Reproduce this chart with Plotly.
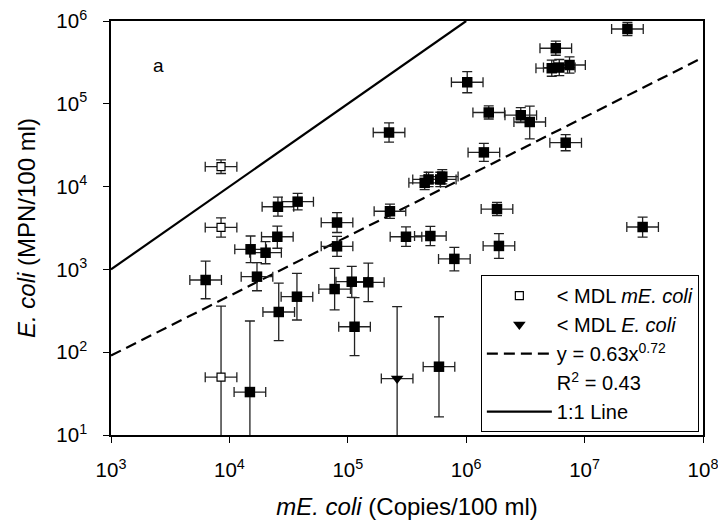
import plotly.graph_objects as go

# ---- data ----
# filled squares (both above MDL)
fx = [2.23e5, 2.57e4, 3.77e4, 8.11e4, 2.27e5, 2.54e4, 2.30e7, 5.71e6, 5.28e6, 6.11e6,
      7.46e6, 1.02e6, 1.55e6, 2.89e6, 3.44e6, 6.92e6, 1.41e6, 4.46e5, 4.81e5, 6.04e5,
      6.28e5, 1.82e6, 3.09e7, 3.10e5, 4.98e5, 7.94e5, 1.89e6, 5.89e5, 1.51e4, 2.02e4,
      8.11e4, 6.30e3, 1.71e4, 3.72e4, 2.61e4, 7.74e4, 1.08e5, 1.49e5, 1.14e5, 1.49e4]
fy = [4.50e4, 5.71e3, 6.58e3, 3.68e3, 5.04e3, 2.48e3, 8.0e5, 4.69e5, 2.69e5, 2.74e5,
      2.94e5, 1.82e5, 7.85e4, 7.28e4, 6.03e4, 3.39e4, 2.59e4, 1.11e4, 1.22e4, 1.22e4,
      1.32e4, 5.36e3, 3.25e3, 2.48e3, 2.53e3, 1.34e3, 1.92e3, 66.8, 1.75e3, 1.59e3,
      1.90e3, 745, 817, 468, 306, 579, 710, 698, 203, 33]
fy_hi = [5.89e4, 7.45e3, 8.28e3, 4.86e3, 6.13e3, 3.34e3, 9.59e5, 5.70e5, 3.36e5, 3.43e5,
         3.68e5, 2.44e5, 9.42e4, 8.97e4, 9.40e4, 4.24e4, 3.33e4, 1.35e4, 1.49e4, 1.49e4,
         1.60e4, 6.46e3, 4.29e3, 3.26e3, 3.30e3, 1.85e3, 2.71e3, 268, 2.53e3, 2.17e3,
         2.51e3, 1.26e3, 1.21e3, 893, 681, 1.03e3, 1.09e3, 1.19e3, 455, 238]
fy_lo = [3.44e4, 4.39e3, 5.23e3, 2.79e3, 4.14e3, 1.80e3, 6.67e5, 3.86e5, 2.15e5, 2.19e5,
         2.35e5, 1.36e5, 6.55e4, 5.91e4, 3.76e4, 2.71e4, 2.02e4, 9.2e3, 1.0e4, 1.0e4,
         1.08e4, 4.45e3, 2.46e3, 1.90e3, 1.94e3, 960, 1.36e3, 16.6, 1.21e3, 1.17e3,
         1.44e3, 442, 552, 245, 138, 325, 460, 409, 90.8, 0]

# open squares (< MDL mE. coli)
ox = [8.5e3, 8.5e3, 8.5e3]
oy = [1.74e4, 3.21e3, 50]
oy_hi = [2.10e4, 4.19e3, 361]
oy_lo = [1.44e4, 2.46e3, 0]

# triangle (< MDL E. coli)
tx = [2.61e5]
ty = [48]
ty_hi = [355]
ty_lo = [0]

# horizontal error bars: constant multiplicative factor
X_ERR_FACTOR = 1.36

# fitted power law y = a * x^b and the 1:1 line
fit_a, fit_b = 0.63, 0.72
fit_x = [1e3, 1e8]
one_x = [1e3, 1e6]

xtick_vals = [1e3, 1e4, 1e5, 1e6, 1e7, 1e8]
xtick_text = ["10<sup>3</sup>", "10<sup>4</sup>", "10<sup>5</sup>", "10<sup>6</sup>",
              "10<sup>7</sup>", "10<sup>8</sup>"]
ytick_vals = [1e1, 1e2, 1e3, 1e4, 1e5, 1e6]
ytick_text = ["10<sup>1</sup>", "10<sup>2</sup>", "10<sup>3</sup>", "10<sup>4</sup>",
              "10<sup>5</sup>", "10<sup>6</sup>"]

FONT = "Liberation Sans, Arial, sans-serif"
BAR_COLOR = "#222222"


def ex(xs):
    return dict(type="data", symmetric=False,
                array=[v * (X_ERR_FACTOR - 1) for v in xs],
                arrayminus=[v * (1 - 1 / X_ERR_FACTOR) for v in xs],
                color=BAR_COLOR, thickness=1.3, width=5)


def ey(ys, hi, lo):
    return dict(type="data", symmetric=False,
                array=[h - y for y, h in zip(ys, hi)],
                arrayminus=[y - l for y, l in zip(ys, lo)],
                color=BAR_COLOR, thickness=1.3, width=5)


fig = go.Figure()

fig.add_trace(go.Scatter(
    x=fit_x, y=[fit_a * v ** fit_b for v in fit_x], mode="lines",
    line=dict(color="black", width=2.2, dash="11px,6px"),
    name="y = 0.63x<sup>0.72</sup>", legendrank=3))
fig.add_trace(go.Scatter(
    x=[None], y=[None], mode="lines", line=dict(color="rgba(0,0,0,0)", width=0),
    name="R<sup>2</sup> = 0.43", legendrank=4))
fig.add_trace(go.Scatter(
    x=one_x, y=one_x, mode="lines", line=dict(color="black", width=2.2),
    name="1:1 Line", legendrank=5))

fig.add_trace(go.Scatter(
    x=fx, y=fy, mode="markers", showlegend=False,
    marker=dict(symbol="square", size=10.5, color="black"),
    error_x=ex(fx), error_y=ey(fy, fy_hi, fy_lo)))
fig.add_trace(go.Scatter(
    x=ox, y=oy, mode="markers", name="< MDL <i>mE. coli</i>", legendrank=1,
    marker=dict(symbol="square", size=8, color="white",
                line=dict(color="black", width=1.2)),
    error_x=ex(ox), error_y=ey(oy, oy_hi, oy_lo)))
fig.add_trace(go.Scatter(
    x=tx, y=ty, mode="markers", name="< MDL <i>E. coli</i>", legendrank=2,
    marker=dict(symbol="triangle-down", size=11, color="black"),
    error_x=ex(tx), error_y=ey(ty, ty_hi, ty_lo)))

axis_common = dict(
    type="log", showgrid=False, zeroline=False, showline=True, mirror=True,
    linecolor="black", linewidth=1.5, ticks="outside", ticklen=6, tickwidth=1.2,
    tickcolor="black", tickfont=dict(family=FONT, size=20.5, color="black"),
    ticklabeloverflow="allow",
)

fig.update_xaxes(
    **axis_common, range=[3, 8], tickvals=xtick_vals, ticktext=xtick_text,
    ticklabelstandoff=10,
    title=dict(text="<i>mE. coli</i> (Copies/100 ml)",
               font=dict(family=FONT, size=24, color="black"), standoff=18))
fig.update_yaxes(
    **axis_common, range=[1, 6], tickvals=ytick_vals, ticktext=ytick_text,
    ticklabelstandoff=12,
    title=dict(text="<i>E. coli</i> (MPN/100 ml)",
               font=dict(family=FONT, size=24, color="black"), standoff=14))

fig.add_annotation(x=0.068, y=0.923, xref="paper", yref="paper", text="a",
                   showarrow=False, font=dict(family=FONT, size=19, color="black"))

# the page body adds an 8 px offset, so the figure is sized 8 px smaller
fig.update_layout(
    width=718, height=521,
    margin=dict(l=103, r=23, t=13, b=94, autoexpand=False),
    paper_bgcolor="white", plot_bgcolor="white",
    font=dict(family=FONT, color="black"),
    legend=dict(x=0.993, y=0.007, xanchor="right", yanchor="bottom",
                bgcolor="white", bordercolor="black", borderwidth=1,
                font=dict(family=FONT, size=20, color="black"),
                itemwidth=65),
)

fig.write_html("out.html")
